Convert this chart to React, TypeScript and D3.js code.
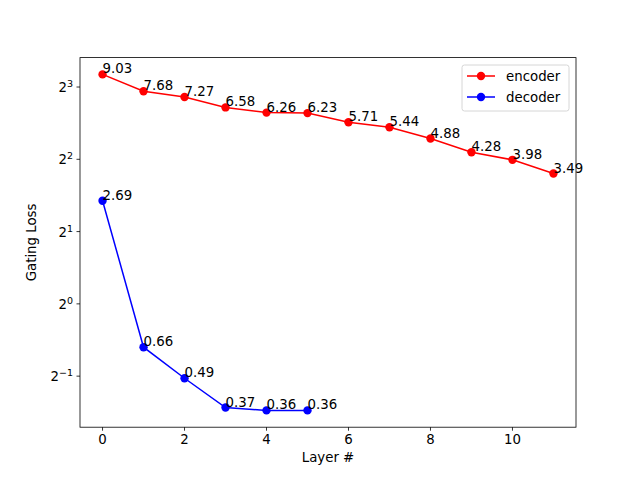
import React, { useEffect, useRef } from 'react';
import { select, scaleLinear, scaleLog, line } from 'd3';

const layers = [0, 1, 2, 3, 4, 5, 6, 7, 8, 9, 10, 11];
const encoderLoss = [9.03, 7.68, 7.27, 6.58, 6.26, 6.23, 5.71, 5.44, 4.88, 4.28, 3.98, 3.49];
const decoderLoss = [2.69, 0.66, 0.49, 0.37, 0.36, 0.36];
const xTicks = [0, 2, 4, 6, 8, 10];
const yExponents = [-1, 0, 1, 2, 3];

const series = [
    { name: 'encoder', color: '#ff0000', values: encoderLoss },
    { name: 'decoder', color: '#0000ff', values: decoderLoss }
];

const App: React.FC = () => {
    const svgRef = useRef<SVGSVGElement>(null);

    useEffect(() => {
        if (!svgRef.current) return;
        const svg = select(svgRef.current);
        svg.html('');

        const width = 640;
        const height = 480;
        const margin = { top: 57.6, right: 64, bottom: 52.8, left: 80 };
        const font = 'DejaVu Sans, sans-serif';

        const x = scaleLinear().domain([-0.55, 11.55]).range([margin.left, width - margin.right]);
        // log2 axis with matplotlib's 5% margins in log space
        const lo = Math.log2(0.36), hi = Math.log2(9.03);
        const pad = (hi - lo) * 0.05;
        const y = scaleLog().base(2).domain([2 ** (lo - pad), 2 ** (hi + pad)])
            .range([height - margin.bottom, margin.top]);

        svg.append('rect').attr('width', width).attr('height', height).attr('fill', 'white');

        // lines & markers
        series.forEach(s => {
            const pts = s.values.map((v, i) => [layers[i], v] as [number, number]);
            svg.append('path')
                .datum(pts)
                .attr('fill', 'none')
                .attr('stroke', s.color)
                .attr('stroke-width', 1.5)
                .attr('d', line<[number, number]>().x(d => x(d[0])).y(d => y(d[1])));
            svg.selectAll(null)
                .data(pts)
                .enter()
                .append('circle')
                .attr('cx', d => x(d[0]))
                .attr('cy', d => y(d[1]))
                .attr('r', 4.2)
                .attr('fill', s.color);
            svg.selectAll(null)
                .data(pts)
                .enter()
                .append('text')
                .attr('x', d => x(d[0]))
                .attr('y', d => y(d[1]) - 1)
                .attr('font-family', font)
                .attr('font-size', 13.33)
                .attr('fill', 'black')
                .text(d => d[1].toFixed(2));
        });

        // frame
        svg.append('rect')
            .attr('x', margin.left)
            .attr('y', margin.top)
            .attr('width', width - margin.left - margin.right)
            .attr('height', height - margin.top - margin.bottom)
            .attr('fill', 'none')
            .attr('stroke', 'black')
            .attr('stroke-width', 0.8);

        // x ticks
        const xAxis = svg.append('g');
        xTicks.forEach(t => {
            const px = x(t);
            const by = height - margin.bottom;
            xAxis.append('line').attr('x1', px).attr('x2', px).attr('y1', by).attr('y2', by + 3.5)
                .attr('stroke', 'black').attr('stroke-width', 0.8);
            xAxis.append('text').attr('x', px).attr('y', by + 17).attr('text-anchor', 'middle')
                .attr('font-family', font).attr('font-size', 13.33).text(String(t));
        });
        svg.append('text')
            .attr('x', (margin.left + width - margin.right) / 2)
            .attr('y', height - margin.bottom + 35)
            .attr('text-anchor', 'middle')
            .attr('font-family', font).attr('font-size', 13.33)
            .text('Layer #');

        // y ticks (powers of two)
        const yAxis = svg.append('g');
        yExponents.forEach(e => {
            const py = y(2 ** e);
            yAxis.append('line').attr('x1', margin.left - 3.5).attr('x2', margin.left).attr('y1', py).attr('y2', py)
                .attr('stroke', 'black').attr('stroke-width', 0.8);
            const label = yAxis.append('text')
                .attr('x', margin.left - 7)
                .attr('y', py + 5)
                .attr('text-anchor', 'end')
                .attr('font-family', font).attr('font-size', 13.33);
            label.append('tspan').text('2');
            label.append('tspan').attr('dy', -5).attr('font-size', 9.5)
                .text(e < 0 ? `\u2212${-e}` : String(e));
        });
        svg.append('text')
            .attr('transform', `translate(36, ${(margin.top + height - margin.bottom) / 2}) rotate(-90)`)
            .attr('text-anchor', 'middle')
            .attr('font-family', font).attr('font-size', 13.33)
            .text('Gating Loss');

        // legend
        const lx = 462, ly = 65, lw = 107, lh = 46;
        const legend = svg.append('g');
        legend.append('rect')
            .attr('x', lx).attr('y', ly).attr('width', lw).attr('height', lh)
            .attr('rx', 2.5)
            .attr('fill', 'white').attr('fill-opacity', 0.8)
            .attr('stroke', '#cccccc').attr('stroke-width', 0.8);
        series.forEach((s, i) => {
            const cy = ly + 11 + i * 21;
            legend.append('line').attr('x1', lx + 5).attr('x2', lx + 33).attr('y1', cy).attr('y2', cy)
                .attr('stroke', s.color).attr('stroke-width', 1.5);
            legend.append('circle').attr('cx', lx + 19).attr('cy', cy).attr('r', 4.2).attr('fill', s.color);
            legend.append('text').attr('x', lx + 44).attr('y', cy + 4.5)
                .attr('font-family', font).attr('font-size', 13.33).text(s.name);
        });
    }, []);

    return <svg ref={svgRef} width={640} height={480} style={{ display: 'block', margin: -8 }} />;
};

export default App;
